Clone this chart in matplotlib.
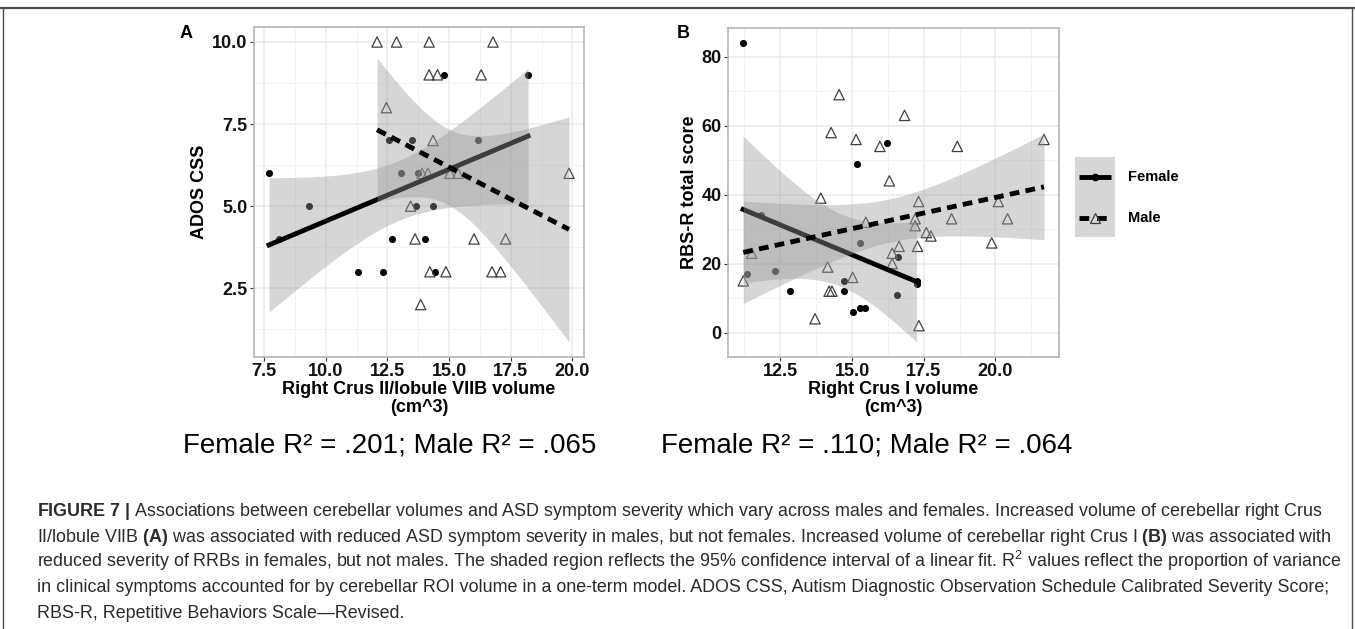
import numpy as np
import matplotlib.pyplot as plt
from matplotlib.patches import Rectangle

plt.rcParams['font.family'] = ['Liberation Sans', 'DejaVu Sans']
plt.rcParams['mathtext.fontset'] = 'custom'
plt.rcParams['mathtext.rm'] = 'Liberation Sans'
plt.rcParams['mathtext.bf'] = 'Liberation Sans:bold'
plt.rcParams['mathtext.it'] = 'Liberation Sans:italic'

# panel A: ADOS CSS vs right Crus II/lobule VIIB volume
ados_female_vol = [7.70, 8.12, 9.33, 11.29, 12.34, 12.56, 12.69, 13.07, 13.48, 13.65,
                   13.74, 14.04, 14.35, 14.41, 14.78, 16.17, 18.20]
ados_female_css = [6, 4, 5, 3, 3, 7, 4, 6, 7, 5, 6, 4, 5, 3, 9, 7, 9]
ados_male_vol = [12.08, 12.87, 14.19, 16.78, 14.19, 14.53, 16.30, 12.46, 14.35, 13.90,
                 14.14, 15.03, 15.36, 19.86, 13.44, 13.62, 16.01, 17.29, 14.22, 14.87,
                 16.74, 17.09, 13.85]
ados_male_css = [10, 10, 10, 10, 9, 9, 9, 8, 7, 6, 6, 6, 6, 6, 5, 4, 4, 4, 3, 3, 3, 3, 2]

# panel B: RBS-R total score vs right Crus I volume
rbs_female_vol = [11.20, 16.22, 15.16, 15.28, 16.61, 11.83, 11.33, 12.33, 14.73, 12.84,
                  14.73, 15.04, 15.28, 15.44, 16.56, 17.25, 17.25]
rbs_female_score = [84, 55, 49, 26, 22, 34, 17, 18, 15, 12, 12, 6, 7, 7, 11, 15, 14]
rbs_male_vol = [14.55, 16.83, 14.27, 15.14, 15.97, 18.67, 16.30, 13.91, 17.32, 21.69,
                20.10, 18.47, 20.42, 19.87, 15.48, 17.20, 17.20, 17.59, 17.75, 16.64,
                17.28, 16.40, 16.40, 11.50, 11.21, 14.15, 15.02, 14.20, 14.30, 13.71, 17.33]
rbs_male_score = [69, 63, 58, 56, 54, 54, 44, 39, 38, 56, 38, 33, 33, 26, 32, 33, 31, 29,
                  28, 25, 25, 23, 20, 23, 15, 19, 16, 12, 12, 4, 2]

ados_ticks_x = [7.5, 10.0, 12.5, 15.0, 17.5, 20.0]
ados_ticks_y = [2.5, 5.0, 7.5, 10.0]
rbs_ticks_x = [12.5, 15.0, 17.5, 20.0]
rbs_ticks_y = [0, 20, 40, 60, 80]

r2_texts = ["Female R\u00b2 = .201; Male R\u00b2 = .065",
            "Female R\u00b2 = .110; Male R\u00b2 = .064"]

caption_lines = [
    r"$\mathbf{FIGURE\ 7\ |}$ Associations between cerebellar volumes and ASD symptom severity which vary across males and females. Increased volume of cerebellar right Crus",
    r"II/lobule VIIB $\mathbf{(A)}$ was associated with reduced ASD symptom severity in males, but not females. Increased volume of cerebellar right Crus I $\mathbf{(B)}$ was associated with",
    r"reduced severity of RRBs in females, but not males. The shaded region reflects the 95% confidence interval of a linear fit. R$^2$ values reflect the proportion of variance",
    "in clinical symptoms accounted for by cerebellar ROI volume in a one-term model. ADOS CSS, Autism Diagnostic Observation Schedule Calibrated Severity Score;",
    "RBS-R, Repetitive Behaviors Scale\u2014Revised.",
]

# two-sided 95% t quantiles by residual df
T95 = {15: 2.131, 21: 2.080, 29: 2.045}


def lm_band(x, y, n_grid=80):
    x = np.asarray(x, float)
    y = np.asarray(y, float)
    n = len(x)
    b1, b0 = np.polyfit(x, y, 1)
    xs = np.linspace(x.min(), x.max(), n_grid)
    fit = b0 + b1 * xs
    s = np.sqrt(np.sum((y - (b0 + b1 * x)) ** 2) / (n - 2))
    se = s * np.sqrt(1 / n + (xs - x.mean()) ** 2 / np.sum((x - x.mean()) ** 2))
    t = T95[n - 2]
    return xs, fit, fit - t * se, fit + t * se


def expand(lo, hi, frac=0.05):
    pad = (hi - lo) * frac
    return lo - pad, hi + pad


def draw_panel(ax, fx, fy, mx, my, xticks, yticks, xfmt, yfmt):
    ax.scatter(fx, fy, s=26, c='black', lw=0, zorder=2)
    ax.scatter(mx, my, s=55, marker='^', facecolors='none', edgecolors='#404040',
               lw=0.9, zorder=2)
    ylo, yhi = min(min(fy), min(my)), max(max(fy), max(my))
    for x, y, ls in [(fx, fy, '-'), (mx, my, (0, (2.0, 1.3)))]:
        xs, fit, lo, hi = lm_band(x, y)
        ax.fill_between(xs, lo, hi, color='#999999', alpha=0.4, lw=0, zorder=3)
        ax.plot(xs, fit, color='black', lw=3.5, ls=ls, zorder=3)
        ylo, yhi = min(ylo, lo.min()), max(yhi, hi.max())
    ax.set_xlim(*expand(min(min(fx), min(mx)), max(max(fx), max(mx))))
    ax.set_ylim(*expand(ylo, yhi))

    ax.set_xticks(xticks, [xfmt.format(v) for v in xticks], fontweight='bold')
    ax.set_yticks(yticks, [yfmt.format(v) for v in yticks], fontweight='bold')
    for ticks, setter, lim in [(xticks, ax.set_xticks, ax.get_xlim()),
                               (yticks, ax.set_yticks, ax.get_ylim())]:
        step = ticks[1] - ticks[0]
        minor = np.arange(ticks[0] - step / 2, ticks[-1] + step, step)
        setter([m for m in minor if lim[0] < m < lim[1]], minor=True)
    ax.grid(True, which='major', color='#ebebeb', lw=1.1)
    ax.grid(True, which='minor', color='#f3f3f3', lw=0.7)
    ax.set_axisbelow(True)
    for sp in ax.spines.values():
        sp.set_color('#b5b5b5')
        sp.set_linewidth(1.2)
    ax.tick_params(which='major', length=3, width=0.8, color='#333333',
                   labelsize=13, labelcolor='#111111', pad=1.5)
    ax.tick_params(which='minor', length=0)


W, H = 1355, 629
fig = plt.figure(figsize=(W / 100, H / 100), dpi=100)


def px_axes(left, top, right, bottom):
    return fig.add_axes([left / W, 1 - bottom / H, (right - left) / W, (bottom - top) / H])


ax_a = px_axes(254, 27, 584, 357)
ax_b = px_axes(728, 28, 1059, 357)

draw_panel(ax_a, ados_female_vol, ados_female_css, ados_male_vol, ados_male_css,
           ados_ticks_x, ados_ticks_y, '{:.1f}', '{:.1f}')
draw_panel(ax_b, rbs_female_vol, rbs_female_score, rbs_male_vol, rbs_male_score,
           rbs_ticks_x, rbs_ticks_y, '{:.1f}', '{:g}')

ax_a.set_xlabel('Right Crus II/lobule VIIB volume\n(cm^3)', fontsize=13,
                fontweight='bold', linespacing=1.1)
ax_a.set_ylabel('ADOS CSS', fontsize=13, fontweight='bold')
ax_b.set_xlabel('Right Crus I volume\n(cm^3)', fontsize=13, fontweight='bold',
                linespacing=1.1)
ax_b.set_ylabel('RBS-R total score', fontsize=13, fontweight='bold')
ax_a.xaxis.set_label_coords(0.5, -0.072)
ax_b.xaxis.set_label_coords(0.5, -0.072)
ax_a.yaxis.set_label_coords(-0.14, 0.5)
ax_b.yaxis.set_label_coords(-0.09, 0.5)

# overlay in pixel coordinates for frame, panel tags, legend and caption
ov = fig.add_axes([0, 0, 1, 1])
ov.set_xlim(0, W)
ov.set_ylim(H, 0)
ov.axis('off')

ov.plot([0, W], [8, 8], color='#4d4d4d', lw=1.6)
ov.plot([3, 3], [8, H], color='#4d4d4d', lw=1.0)
ov.plot([W - 3, W - 3], [8, H], color='#4d4d4d', lw=1.0)

ov.text(186, 33, 'A', fontsize=13, fontweight='bold', ha='center', va='center')
ov.text(683, 33, 'B', fontsize=13, fontweight='bold', ha='center', va='center')

# legend
ov.add_patch(Rectangle((1075, 157), 40, 80, fc='#d6d6d6', ec='none'))
ov.plot([1079, 1111], [177, 177], color='black', lw=3.5, solid_capstyle='butt')
ov.plot([1095], [177], 'o', color='black', ms=4.5)
ov.plot([1079, 1111], [218, 218], color='black', lw=3.5, ls=(0, (2.0, 1.6)))
ov.plot([1095], [218], '^', mfc='none', mec='#404040', ms=7.5, mew=0.9)
ov.text(1128, 177, 'Female', fontsize=10.5, fontweight='bold', va='center')
ov.text(1128, 218, 'Male', fontsize=10.5, fontweight='bold', va='center')

ov.text(390, 446, r2_texts[0], fontsize=20, ha='center', va='center')
ov.text(867, 446, r2_texts[1], fontsize=20, ha='center', va='center')

# caption, sized so the first line spans the same width as in the figure
renderer = fig.canvas.get_renderer()
probe = ov.text(0, 0, caption_lines[0], fontsize=10)
cap_size = 10 * 1282 / probe.get_window_extent(renderer).width
probe.remove()
for i, line in enumerate(caption_lines):
    ov.text(37, 516 + 25.5 * i, line, fontsize=cap_size, color='#2b2b2b',
            ha='left', va='baseline')

fig.savefig('out.png', dpi=100)
